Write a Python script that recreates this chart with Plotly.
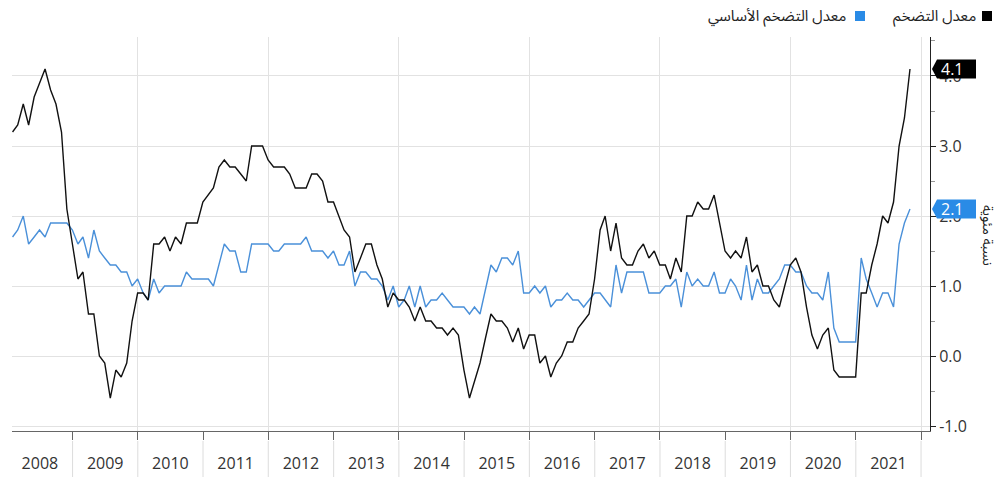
import pandas as pd
import plotly.graph_objects as go

# Monthly year-on-year rates, Jan 2008 - Oct 2021 (month-end observations)
START_MONTH = "2008-01-31"

HEADLINE = [
    3.2, 3.3, 3.6, 3.3, 3.7, 3.9, 4.1, 3.8, 3.6, 3.2, 2.1, 1.6,      # 2008
    1.1, 1.2, 0.6, 0.6, 0.0, -0.1, -0.6, -0.2, -0.3, -0.1, 0.5, 0.9,  # 2009
    0.9, 0.8, 1.6, 1.6, 1.7, 1.5, 1.7, 1.6, 1.9, 1.9, 1.9, 2.2,      # 2010
    2.3, 2.4, 2.7, 2.8, 2.7, 2.7, 2.6, 2.5, 3.0, 3.0, 3.0, 2.8,      # 2011
    2.7, 2.7, 2.7, 2.6, 2.4, 2.4, 2.4, 2.6, 2.6, 2.5, 2.2, 2.2,      # 2012
    2.0, 1.8, 1.7, 1.2, 1.4, 1.6, 1.6, 1.3, 1.1, 0.7, 0.9, 0.8,      # 2013
    0.8, 0.7, 0.5, 0.7, 0.5, 0.5, 0.4, 0.4, 0.3, 0.4, 0.3, -0.2,     # 2014
    -0.6, -0.35, -0.1, 0.25, 0.6, 0.5, 0.5, 0.4, 0.2, 0.4, 0.1, 0.3, # 2015
    0.3, -0.1, 0.0, -0.3, -0.1, 0.0, 0.2, 0.2, 0.4, 0.5, 0.6, 1.1,   # 2016
    1.8, 2.0, 1.5, 1.9, 1.4, 1.3, 1.3, 1.5, 1.6, 1.4, 1.5, 1.3,      # 2017
    1.3, 1.1, 1.4, 1.2, 2.0, 2.0, 2.2, 2.1, 2.1, 2.3, 1.9, 1.5,      # 2018
    1.4, 1.5, 1.4, 1.7, 1.2, 1.3, 1.0, 1.0, 0.8, 0.7, 1.0, 1.3,      # 2019
    1.4, 1.2, 0.7, 0.3, 0.1, 0.3, 0.4, -0.2, -0.3, -0.3, -0.3, -0.3, # 2020
    0.9, 0.9, 1.3, 1.6, 2.0, 1.9, 2.2, 3.0, 3.4, 4.1,                # 2021
]

CORE = [
    1.7, 1.8, 2.0, 1.6, 1.7, 1.8, 1.7, 1.9, 1.9, 1.9, 1.9, 1.8,      # 2008
    1.6, 1.7, 1.4, 1.8, 1.5, 1.4, 1.3, 1.3, 1.2, 1.2, 1.0, 1.1,      # 2009
    0.9, 0.8, 1.1, 0.9, 1.0, 1.0, 1.0, 1.0, 1.2, 1.1, 1.1, 1.1,      # 2010
    1.1, 1.0, 1.3, 1.6, 1.5, 1.5, 1.2, 1.2, 1.6, 1.6, 1.6, 1.6,      # 2011
    1.5, 1.5, 1.6, 1.6, 1.6, 1.6, 1.7, 1.5, 1.5, 1.5, 1.4, 1.5,      # 2012
    1.3, 1.3, 1.5, 1.0, 1.2, 1.2, 1.1, 1.1, 1.0, 0.8, 1.0, 0.7,      # 2013
    0.8, 1.0, 0.7, 1.0, 0.7, 0.8, 0.8, 0.9, 0.8, 0.7, 0.7, 0.7,      # 2014
    0.6, 0.7, 0.6, 0.95, 1.3, 1.2, 1.4, 1.4, 1.3, 1.5, 0.9, 0.9,     # 2015
    1.0, 0.9, 1.0, 0.7, 0.8, 0.8, 0.9, 0.8, 0.8, 0.7, 0.8, 0.9,      # 2016
    0.9, 0.8, 0.7, 1.3, 0.9, 1.2, 1.2, 1.2, 1.2, 0.9, 0.9, 0.9,      # 2017
    1.0, 1.0, 1.1, 0.7, 1.2, 1.0, 1.1, 1.0, 1.0, 1.2, 0.9, 0.9,      # 2018
    1.1, 1.0, 0.8, 1.3, 0.8, 1.1, 0.9, 0.9, 1.0, 1.1, 1.3, 1.3,      # 2019
    1.2, 1.2, 1.0, 0.9, 0.9, 0.8, 1.2, 0.4, 0.2, 0.2, 0.2, 0.2,      # 2020
    1.4, 1.1, 0.9, 0.7, 0.9, 0.9, 0.7, 1.6, 1.9, 2.1,                # 2021
]

YEARS = [str(y) for y in range(2008, 2022)]
SERIES_NAMES = ["معدل التضخم", "معدل التضخم الأساسي"]
Y_TITLE = "نسبة مئوية"
Y_TICKS = [-1.0, 0.0, 1.0, 2.0, 3.0, 4.0]

# ---- styling -------------------------------------------------------------
W, H = 1004, 480
ML, MR, MT, MB = 12, 74, 37, 49
PW, PH = W - ML - MR, H - MT - MB
Y_RANGE = [-1.071, 4.557]
X_RANGE = ["2008-01-28", "2022-02-20"]
COLORS = ["#111111", "#4a90d9"]
TAG_COLORS = ["#000000", "#2a8be6"]
GRID = "#e2e2e2"
NUM_FONT = "Open Sans, DejaVu Sans, sans-serif"
AR_FONT = "Noto Sans Arabic, DejaVu Sans, sans-serif"


def xp(px):
    """pixel column -> paper x"""
    return (px - ML) / PW


def yp(py):
    """pixel row -> paper y"""
    return (H - MB - py) / PH


dates = pd.date_range(START_MONTH, periods=len(HEADLINE), freq="ME")

fig = go.Figure()
# core first so the headline line sits on top
fig.add_trace(go.Scatter(x=dates, y=CORE, mode="lines", name=SERIES_NAMES[1],
                         line=dict(color=COLORS[1], width=1.4), hoverinfo="skip"))
fig.add_trace(go.Scatter(x=dates, y=HEADLINE, mode="lines", name=SERIES_NAMES[0],
                         line=dict(color=COLORS[0], width=1.4), hoverinfo="skip"))
# carrier for the two-year vertical grid axis
fig.add_trace(go.Scatter(x=[dates[0]], y=[None], xaxis="x2", showlegend=False,
                         hoverinfo="skip"))

shapes = []
annotations = []

# year separators under the axis
for y in range(int(YEARS[0]) + 1, int(YEARS[-1]) + 2):
    shapes.append(dict(type="line", xref="x", yref="paper",
                       x0=f"{y}-01-01", x1=f"{y}-01-01",
                       y0=yp(441), y1=yp(477),
                       line=dict(color="#dcdcdc", width=1)))

# end-of-series value tags on the right axis
unit_px = PH / (Y_RANGE[1] - Y_RANGE[0])
half_h = 9.5 / unit_px
for vals, col in zip([HEADLINE, CORE], TAG_COLORS):
    v = vals[-1]
    path = (f"M {xp(932)},{v} L {xp(937)},{v + half_h} L {xp(976)},{v + half_h} "
            f"L {xp(976)},{v - half_h} L {xp(937)},{v - half_h} Z")
    shapes.append(dict(type="path", xref="paper", yref="y", path=path,
                       fillcolor=col, line=dict(width=0), layer="above"))
    annotations.append(dict(xref="paper", yref="y", x=xp(939), y=v,
                            xanchor="left", yanchor="middle", showarrow=False,
                            text=f"{v:.1f}",
                            font=dict(family=NUM_FONT, size=16, color="white")))

# legend (right-to-left: swatch on the right of each label)
legend_items = [(SERIES_NAMES[0], TAG_COLORS[0], 982, 978),
                (SERIES_NAMES[1], TAG_COLORS[1], 855, 848)]
for name, col, sq_left, txt_right in legend_items:
    shapes.append(dict(type="rect", xref="paper", yref="paper",
                       x0=xp(sq_left), x1=xp(sq_left + 10),
                       y0=yp(21), y1=yp(11),
                       fillcolor=col, line=dict(width=0)))
    annotations.append(dict(xref="paper", yref="paper", x=xp(txt_right), y=yp(16),
                            xanchor="right", yanchor="middle", showarrow=False,
                            text=name,
                            font=dict(family=AR_FONT, size=15, color="#222")))

# axis title on the right
annotations.append(dict(xref="paper", yref="paper", x=xp(988), y=yp(235),
                        xanchor="center", yanchor="middle", showarrow=False,
                        text=Y_TITLE, textangle=90,
                        font=dict(family=AR_FONT, size=14, color="#222")))

fig.update_layout(
    width=W, height=H,
    margin=dict(l=ML, r=MR, t=MT, b=MB, pad=0, autoexpand=False),
    paper_bgcolor="white", plot_bgcolor="white",
    showlegend=False, hovermode=False,
    shapes=shapes, annotations=annotations,
    xaxis=dict(
        type="date", range=X_RANGE, automargin=False,
        tick0="2008-01-01", dtick="M12", tickformat="%Y",
        ticklabelmode="period", ticks="outside", ticklen=8,
        tickcolor="#666", tickwidth=1,
        showgrid=False, zeroline=False,
        showline=True, linecolor="#666", linewidth=1,
        tickfont=dict(family=NUM_FONT, size=16, color="#333"),
        ticklabelstandoff=10,
    ),
    xaxis2=dict(
        type="date", overlaying="x", matches="x", anchor="y",
        tick0="2008-01-01", dtick="M24",
        showgrid=True, gridcolor=GRID, gridwidth=1,
        showticklabels=False, ticks="", showline=False, zeroline=False,
    ),
    yaxis=dict(
        side="right", range=Y_RANGE, automargin=False,
        tickmode="array", tickvals=Y_TICKS,
        ticktext=[f"{t:.1f}" for t in Y_TICKS],
        ticks="outside", ticklen=5, tickcolor="#222", tickwidth=1,
        minor=dict(dtick=0.5, tick0=0, ticks="outside", ticklen=4,
                   tickcolor="#999", showgrid=False),
        showgrid=True, gridcolor=GRID, gridwidth=1,
        zeroline=False,
        showline=True, linecolor="#222", linewidth=1,
        tickfont=dict(family=NUM_FONT, size=16, color="#333"),
    ),
)

fig.write_html("out.html")
